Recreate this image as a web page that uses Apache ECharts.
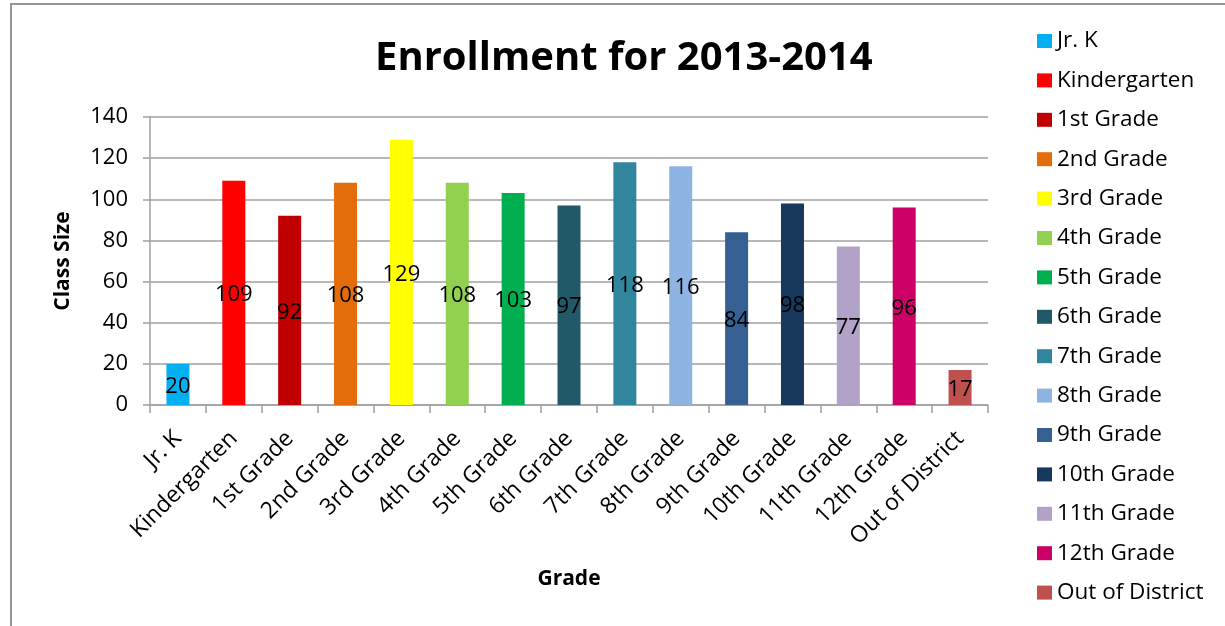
<!DOCTYPE html>
<html>
<head>
<meta charset="utf-8">
<script src="https://cdn.jsdelivr.net/npm/echarts@6/dist/echarts.min.js"></script>
<style>html,body{margin:0;padding:0;background:#fff;}#c{width:1225px;height:626px;}</style>
</head>
<body>
<div id="c"></div>
<script>
const categories = ["Jr. K","Kindergarten","1st Grade","2nd Grade","3rd Grade","4th Grade","5th Grade","6th Grade","7th Grade","8th Grade","9th Grade","10th Grade","11th Grade","12th Grade","Out of District"];
const values = [20,109,92,108,129,108,103,97,118,116,84,98,77,96,17];
const colors = ["#00B0F0","#FF0000","#C00000","#E46C0A","#FFFF00","#92D050","#00B050","#215968","#31859C","#8DB4E2","#366092","#17375D","#B3A2C7","#CC0066","#C0504D"];
const yTicks = [0,20,40,60,80,100,120,140];

const FONT = "Open Sans";
const chart = echarts.init(document.getElementById('c'));
const series = categories.map((name, i) => ({
  name: name,
  type: 'bar',
  stack: 'all',
  barWidth: 23,
  itemStyle: { color: colors[i] },
  label: { show: true, position: 'inside', offset: [0, 2], color: '#000', fontFamily: FONT, fontSize: 22 },
  data: categories.map((c, j) => (j === i ? values[i] : '-'))
}));

chart.setOption({
  animation: false,
  textStyle: { fontFamily: FONT },
  title: {
    text: 'Enrollment for 2013-2014',
    left: 370, top: 34,
    textStyle: { fontFamily: FONT, fontWeight: 'bold', fontSize: 40, color: '#000' }
  },
  legend: {
    orient: 'vertical',
    left: 1032, top: 24,
    itemWidth: 15, itemHeight: 14,
    itemGap: 15.4,
    icon: 'rect',
    textStyle: { fontFamily: FONT, fontSize: 22.5, color: '#000', lineHeight: 24 },
    data: categories
  },
  grid: { left: 150, right: 237, top: 117, bottom: 221 },
  xAxis: {
    type: 'category',
    data: categories,
    name: 'Grade',
    nameLocation: 'middle',
    nameGap: 164,
    nameTextStyle: { fontFamily: FONT, fontWeight: 'bold', fontSize: 21, color: '#000' },
    axisLine: { lineStyle: { color: '#a0a0a0', width: 1.5 } },
    axisTick: { show: true, length: 8, lineStyle: { color: '#a0a0a0', width: 1.5 } },
    axisLabel: { rotate: 45, margin: 30, interval: 0, fontFamily: FONT, fontSize: 23, color: '#000' }
  },
  yAxis: {
    type: 'value',
    min: 0, max: 140, interval: 20,
    name: 'Class Size',
    nameLocation: 'middle',
    nameGap: 76,
    nameTextStyle: { fontFamily: FONT, fontWeight: 'bold', fontSize: 21, color: '#000' },
    axisLine: { show: true, lineStyle: { color: '#a0a0a0', width: 1.5 } },
    axisTick: { show: true, length: 7, lineStyle: { color: '#a0a0a0', width: 1.5 } },
    splitLine: { lineStyle: { color: '#a0a0a0', width: 1.5 } },
    axisLabel: { margin: 22, fontFamily: FONT, fontSize: 22, color: '#000',
      formatter: v => (yTicks.indexOf(v) >= 0 ? String(v) : '') }
  },
  graphic: [{
    type: 'rect', silent: true, z: -1,
    shape: { x: 11, y: 4, width: 1400, height: 800 },
    style: { fill: 'none', stroke: '#959595', lineWidth: 2 }
  }],
  series: series
});
</script>
</body>
</html>
